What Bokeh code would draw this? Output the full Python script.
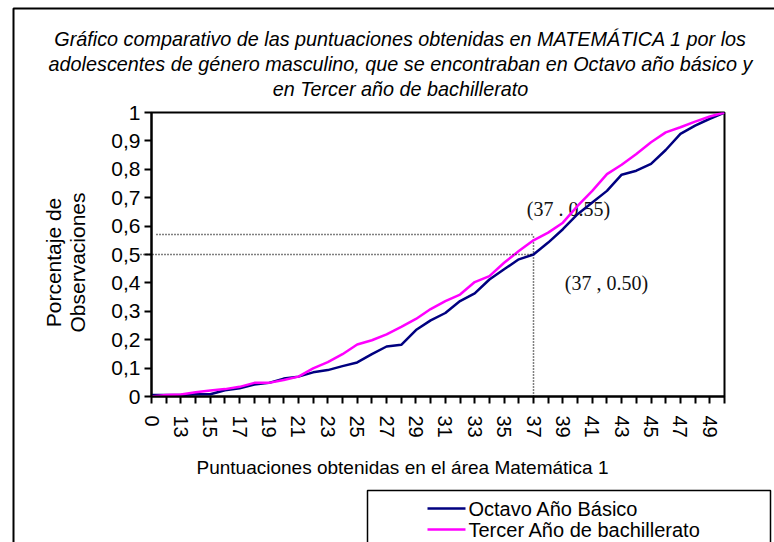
import math
from bokeh.plotting import figure
from bokeh.models import Range1d, FixedTicker
from bokeh.core.properties import value
from bokeh.embed import file_html
from bokeh.resources import INLINE

# ---------------- data ----------------
categories = ["0", "12", "13", "14", "15", "16", "17", "18", "19", "20",
              "21", "22", "23", "24", "25", "26", "27", "28", "29", "30",
              "31", "32", "33", "34", "35", "36", "37", "38", "39", "40",
              "41", "42", "43", "44", "45", "46", "47", "48", "49", "50"]

octavo = [0.005, 0.005, 0.005, 0.008, 0.008, 0.022, 0.029, 0.042, 0.048, 0.063,
          0.070, 0.085, 0.093, 0.107, 0.120, 0.149, 0.176, 0.182, 0.234, 0.268,
          0.294, 0.336, 0.363, 0.412, 0.448, 0.483, 0.500, 0.542, 0.589, 0.642,
          0.683, 0.724, 0.781, 0.795, 0.819, 0.868, 0.925, 0.954, 0.978, 1.000]

tercer = [0.000, 0.005, 0.007, 0.015, 0.021, 0.026, 0.034, 0.048, 0.048, 0.058,
          0.070, 0.099, 0.121, 0.149, 0.183, 0.198, 0.219, 0.245, 0.273, 0.308,
          0.336, 0.359, 0.403, 0.424, 0.471, 0.512, 0.550, 0.577, 0.612, 0.671,
          0.724, 0.783, 0.816, 0.854, 0.895, 0.930, 0.948, 0.968, 0.986, 1.000]

series_names = ["Octavo Año Básico", "Tercer Año de bachillerato"]
series_colors = ["#000080", "#FF00FF"]

y_ticks = [0, 0.1, 0.2, 0.3, 0.4, 0.5, 0.6, 0.7, 0.8, 0.9, 1]
y_tick_labels = ["0", "0,1", "0,2", "0,3", "0,4", "0,5", "0,6", "0,7", "0,8", "0,9", "1"]

ref_category = "37"
ref_low = 0.50
ref_high = 0.57
ref_texts = ["(37 . 0.55)", "(37 , 0.50)"]

title_lines = [
    "Gráfico comparativo de las puntuaciones obtenidas en MATEMÁTICA 1 por los",
    "adolescentes de género masculino, que se encontraban en Octavo año básico y",
    "en Tercer año de bachillerato",
]
x_title = "Puntuaciones obtenidas en el área Matemática 1"
y_title = ["Porcentaje de", "Observaciones"]

# ---------------- layout (picture pixels) ----------------
CX0, CY0 = 0, 0                        # canvas origin on the picture
FL, FR, FT, FB = 151, 724, 112, 396    # plot frame on the picture
FW, FH = FR - FL, FB - FT
CW, CH = 774, 542
N = len(categories)
idx = list(range(N))                   # positions of the categories on the axis
ref_i = categories.index(ref_category)

def ux(px):
    return (px - FL) * (N - 1) / FW

def vy(py):
    return (FB - py) / FH

SANS = "Liberation Sans"
SERIF = "Liberation Serif"

p = figure(x_range=Range1d(0, N - 1), y_range=Range1d(0, 1),
           frame_width=FW, frame_height=FH,
           min_border_left=FL - CX0, min_border_right=CW - (FR - CX0),
           min_border_top=FT - CY0, min_border_bottom=CH - (FB - CY0),
           output_backend="svg", toolbar_location=None)

p.background_fill_color = "white"
p.border_fill_color = "white"
p.outline_line_color = "black"
p.outline_line_width = 2
p.xgrid.visible = False
p.ygrid.visible = False

# axes
p.yaxis.ticker = FixedTicker(ticks=y_ticks)
p.yaxis.major_label_overrides = dict(zip(y_ticks, y_tick_labels))
p.yaxis.minor_tick_line_color = None
p.yaxis.major_tick_in = 0
p.yaxis.major_tick_out = 7
p.yaxis.major_tick_line_width = 2
p.yaxis.axis_line_width = 2
p.yaxis.major_label_standoff = 4
p.yaxis.major_label_text_font = SANS
p.yaxis.major_label_text_font_size = "21px"
p.yaxis.major_label_text_color = "black"

p.xaxis.ticker = FixedTicker(ticks=idx)
p.xaxis.major_label_overrides = {i: (c if i % 2 == 0 else "") for i, c in zip(idx, categories)}
p.xaxis.minor_tick_line_color = None
p.xaxis.major_label_orientation = "vertical"
p.xaxis.major_tick_in = 0
p.xaxis.major_tick_out = 7
p.xaxis.major_tick_line_width = 2
p.xaxis.axis_line_width = 2
p.xaxis.major_label_standoff = 12
p.xaxis.major_label_text_font = SANS
p.xaxis.major_label_text_font_size = "20px"
p.xaxis.major_label_text_color = "black"

# point annotations (drawn under the curves, as in the reference)
p.text(x=[ux(568), ux(606)], y=[vy(208), vy(282)], text=ref_texts, text_align="center",
       text_baseline="middle", text_font=value(SERIF), text_font_size="20px",
       text_color="#111111")

# reference dotted lines
dot = dict(line_color="black", line_width=1.5, line_dash="1 2")
p.line(x=[ux(137), ref_i], y=[ref_low, ref_low], level="overlay", **dot)
p.line(x=[ux(156), ref_i], y=[ref_high, ref_high], **dot)
p.line(x=[ref_i, ref_i], y=[0, ref_high], **dot)

# series
r1 = p.line(x=idx, y=octavo, line_color=series_colors[0], line_width=2.5)
r2 = p.line(x=idx, y=tercer, line_color=series_colors[1], line_width=2.5)

# outer chart border (left and top edges)
p.line(x=[ux(13), ux(13), ux(800)], y=[vy(600), vy(8), vy(8)], line_color="black",
       line_width=2, level="overlay")

# title
p.text(x=[ux(400)] * 3, y=[vy(38), vy(63), vy(88)], text=title_lines,
       text_align="center", text_baseline="middle", text_font=value(SANS),
       text_font_size="19.8px", text_font_style="italic", text_color="black", level="overlay")

# axis titles
p.text(x=[ux(402)], y=[vy(467)], text=[x_title], text_align="center", text_baseline="middle",
       text_font=value(SANS), text_font_size="19px", text_color="black", level="overlay")
p.text(x=[ux(53), ux(77)], y=[vy(262), vy(262)], text=y_title, angle=math.pi / 2,
       text_align="center", text_baseline="middle", text_font=value(SANS),
       text_font_size="21px", text_color="black", level="overlay")

# legend: box, sample lines and labels
p.line(x=[ux(367), ux(367), ux(770), ux(770)], y=[vy(600), vy(490), vy(490), vy(600)],
       line_color="black", line_width=1.5, level="overlay")
legend_rows = [vy(508), vy(529)]
p.multi_line(xs=[[ux(427), ux(465)]] * 2, ys=[[r, r] for r in legend_rows],
             line_color=series_colors, line_width=2.5, level="overlay")
p.text(x=[ux(468)] * 2, y=legend_rows, text=series_names, text_align="left",
       text_baseline="middle", text_font=value(SANS), text_font_size="20px",
       text_color="black", level="overlay")

open("out.html", "w").write(file_html(p, INLINE))
